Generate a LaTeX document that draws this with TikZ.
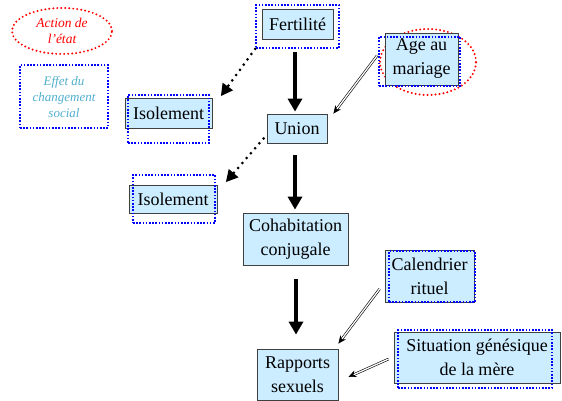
\documentclass[tikz,border=0pt]{standalone}
\usepackage{fontspec}
\setmainfont{Liberation Serif}
\usetikzlibrary{arrows.meta,calc,shapes.geometric}
\definecolor{boxblue}{RGB}{204,236,255}
\definecolor{legendcyan}{RGB}{80,175,205}
\tikzset{
    box/.style={draw=black!75, line width=0.8pt, fill=boxblue, align=center,
        inner sep=0pt, font=\fontsize{18}{24}\selectfont},
    bluedots/.style={draw=blue, line width=1.6pt, dash pattern=on 1.6pt off 1.6pt,
        inner sep=0pt},
    reddots/.style={draw=red, line width=2.2pt, line cap=round,
        dash pattern=on 0pt off 4pt, ellipse, inner sep=0pt},
    bigarrow/.style={line width=3.5pt, -{Triangle[length=13pt,width=14pt]}},
    dotarrow/.style={line width=3pt, line cap=round, dash pattern=on 0pt off 6.5pt,
        -{Triangle[length=12pt,width=12pt]}},
    dblarrow/.style={line width=0.6pt, double=white, double distance=1.3pt,
        -{Stealth[length=8pt,width=7pt]}},
}
\begin{document}
\begin{tikzpicture}[x=1pt,y=-1pt]
    \useasboundingbox (0,0) rectangle (562,401);
    % Legend
    \node[reddots, minimum width=100pt, minimum height=46pt, text=red,
        font=\fontsize{13.5}{16}\selectfont\itshape, align=center]
        (action) at (62,31) {Action de\\l’état};
    \node[bluedots, minimum width=88pt, minimum height=63pt, text=legendcyan,
        font=\fontsize{13}{16}\selectfont\itshape, align=center]
        (effet) at (64,96.5) {Effet du\\changement\\social};
    % Age au mariage: red ellipse behind the box
    \node[reddots, minimum width=96pt, minimum height=66pt] (ageR) at (428,62) {};
    % Main chain
    \node[box, minimum width=71pt, minimum height=30pt] (fert) at (297.5,24) {Fertilité};
    \node[box, minimum width=60pt, minimum height=29pt] (union) at (297,128.5) {Union};
    \node[box, minimum width=105pt, minimum height=52pt] (cohab) at (295.5,239) {Cohabitation\\conjugale};
    \node[box, minimum width=81pt, minimum height=51pt] (rapp) at (297.5,374.5) {Rapports\\sexuels};
    % Side boxes
    \node[box, minimum width=87pt, minimum height=30pt] (isol1) at (168.5,113) {Isolement};
    \node[box, minimum width=88pt, minimum height=28pt] (isol2) at (173,199) {Isolement};
    \node[box, minimum width=73pt, minimum height=52pt] (age) at (421.5,59) {Age au\\mariage};
    \node[box, minimum width=89pt, minimum height=52pt] (cal) at (429.5,276) {Calendrier\\rituel};
    \node[box, minimum width=166pt, minimum height=51pt] (sit) at (477,357.5) {Situation génésique\\de la mère};
    % Blue dotted frames
    \node[bluedots, minimum width=83pt, minimum height=43pt] (fertB) at (297.5,26.5) {};
    \node[bluedots, minimum width=81pt, minimum height=48pt] (isol1B) at (168.5,119) {};
    \node[bluedots, minimum width=82pt, minimum height=48pt] (isol2B) at (174,199) {};
    \node[bluedots, minimum width=81pt, minimum height=49pt] (ageB) at (419.5,61.5) {};
    \node[bluedots, minimum width=86pt, minimum height=51pt] (calB) at (432,276.5) {};
    \node[bluedots, minimum width=154pt, minimum height=58pt] (sitB) at (475,359) {};
    % Arrows
    \draw[bigarrow, shorten <=13pt, shorten >=2pt] (fert.south -| 295,0) -- (union.north -| 295,0);
    \draw[bigarrow, shorten <=12pt, shorten >=3pt] (union.south -| 295,0) -- (cohab.north -| 295,0);
    \draw[bigarrow, shorten <=14pt, shorten >=14pt] (cohab.south -| 296,0) -- (rapp.north -| 296,0);
    \draw[dotarrow] (fertB.south west) -- ($(isol1B.north east)+(11,2)$);
    \draw[dotarrow] ($(union.south west)+(-3,-5)$) -- ($(isol2B.north east)+(10,8)$);
    \draw[dblarrow] ($(ageB.west)+(-1,-6)$) -- ($(union.north east)+(6,0)$);
    \draw[dblarrow] ($(cal.west)+(-5,13)$) -- ($(rapp.north east)+(0,-5)$);
    \draw[dblarrow] ($(sit.west)+(-5,1.5)$) -- ($(rapp.east)+(10,2.5)$);
\end{tikzpicture}
\end{document}
